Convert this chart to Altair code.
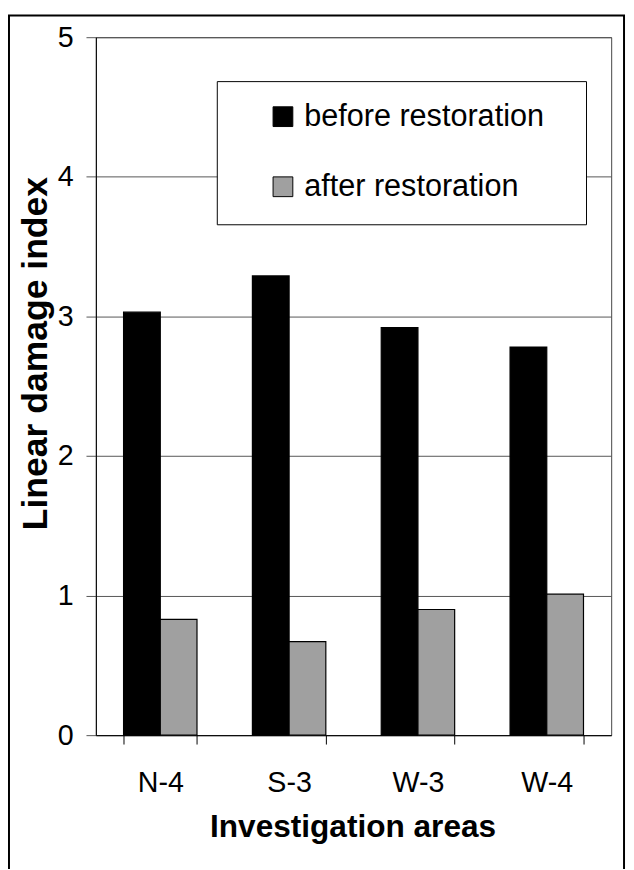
import altair as alt
import pandas as pd

areas = ["N-4", "S-3", "W-3", "W-4"]
before = [3.03, 3.29, 2.92, 2.78]
after = [0.83, 0.67, 0.90, 1.01]
series = ["before restoration", "after restoration"]
colors = ["#000000", "#a0a0a0"]
y_ticks = [0, 1, 2, 3, 4, 5]

rows = []
for a, b, c in zip(areas, before, after):
    rows.append({"area": a, "period": series[0], "value": b})
    rows.append({"area": a, "period": series[1], "value": c})
df = pd.DataFrame(rows)

FONT = "Liberation Sans"

bars = alt.Chart(df).mark_bar(stroke="#000000", strokeWidth=1.2).encode(
    x=alt.X(
        "area:N",
        sort=areas,
        scale=alt.Scale(paddingInner=0.43, paddingOuter=0.215),
        axis=alt.Axis(
            title="Investigation areas",
            labelAngle=0,
            tickBand="extent",
            grid=False,
            domainColor="#000000",
            tickColor="#000000",
            tickSize=9,
            labelFont=FONT,
            labelFontSize=29,
            labelColor="#000000",
            labelPadding=25,
            titleFont=FONT,
            titleFontSize=32,
            titleFontWeight="bold",
            titleColor="#000000",
            titleBaseline="alphabetic",
            titleX=260,
            titleY=103,
        ),
    ),
    xOffset=alt.XOffset("period:N", sort=series),
    y=alt.Y(
        "value:Q",
        scale=alt.Scale(domain=[0, 5], nice=False),
        axis=alt.Axis(
            title="Linear damage index",
            values=y_ticks,
            format="d",
            grid=True,
            gridColor="#555555",
            gridWidth=1,
            domainColor="#000000",
            tickColor="#555555",
            tickSize=10,
            labelFont=FONT,
            labelFontSize=29,
            labelColor="#000000",
            labelPadding=13,
            titleFont=FONT,
            titleFontSize=36,
            titleFontWeight="bold",
            titleColor="#000000",
            titleBaseline="alphabetic",
            titleAlign="center",
            titleX=-50,
            titleY=320,
        ),
    ),
    color=alt.Color(
        "period:N",
        sort=series,
        scale=alt.Scale(domain=series, range=colors),
        legend=alt.Legend(
            title=None,
            orient="none",
            legendX=174,
            legendY=65,
            padding=0,
            symbolType="square",
            symbolSize=400,
            symbolStrokeColor="#000000",
            symbolStrokeWidth=1,
            labelFont=FONT,
            labelFontSize=31,
            labelColor="#000000",
            labelOffset=6,
            labelLimit=400,
            rowPadding=39,
        ),
    ),
)

legend_box = alt.Chart(pd.DataFrame({"k": [0]})).mark_rect(
    fill="#ffffff", stroke="#000000", strokeWidth=1
).encode(
    x=alt.value(123), x2=alt.value(497), y=alt.value(45), y2=alt.value(190)
)

border = alt.Chart(pd.DataFrame({"k": [0]})).mark_rect(
    fillOpacity=0, stroke="#000000", strokeWidth=2
).encode(
    x=alt.value(-88), x2=alt.value(535), y=alt.value(-22), y2=alt.value(860)
)

chart = alt.layer(bars, legend_box, border).properties(
    width=522,
    height=707,
    padding={"left": 89, "top": 24, "right": 15, "bottom": 130},
    autosize=alt.AutoSizeParams(type="none"),
    background="#ffffff",
).configure_view(stroke="#444444", strokeWidth=1)

chart.save("out.html", embed_options={"renderer": "svg", "actions": False})
